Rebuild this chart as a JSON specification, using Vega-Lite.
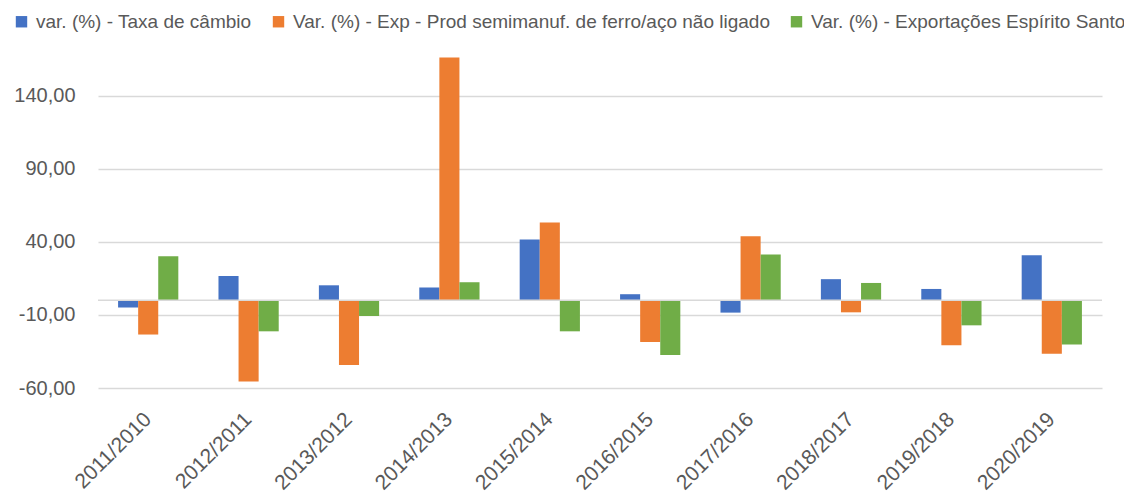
{
  "$schema": "https://vega.github.io/schema/vega-lite/v6.json",
  "width": 1004,
  "height": 336,
  "autosize": "none",
  "padding": {"left": 98, "top": 52, "right": 22, "bottom": 106},
  "background": "white",
  "config": {
    "view": {"stroke": null},
    "font": "Liberation Sans"
  },
  "data": {
    "values": [
      {"periodo": "2011/2010", "serie": "var. (%) - Taxa de câmbio", "valor": -4.9},
      {"periodo": "2011/2010", "serie": "Var. (%) - Exp - Prod semimanuf. de ferro/aço não ligado", "valor": -23.4},
      {"periodo": "2011/2010", "serie": "Var. (%) - Exportações Espírito Santo", "valor": 30.2},
      {"periodo": "2012/2011", "serie": "var. (%) - Taxa de câmbio", "valor": 16.7},
      {"periodo": "2012/2011", "serie": "Var. (%) - Exp - Prod semimanuf. de ferro/aço não ligado", "valor": -55.6},
      {"periodo": "2012/2011", "serie": "Var. (%) - Exportações Espírito Santo", "valor": -21.2},
      {"periodo": "2013/2012", "serie": "var. (%) - Taxa de câmbio", "valor": 10.3},
      {"periodo": "2013/2012", "serie": "Var. (%) - Exp - Prod semimanuf. de ferro/aço não ligado", "valor": -44.2},
      {"periodo": "2013/2012", "serie": "Var. (%) - Exportações Espírito Santo", "valor": -10.7},
      {"periodo": "2014/2013", "serie": "var. (%) - Taxa de câmbio", "valor": 8.8},
      {"periodo": "2014/2013", "serie": "Var. (%) - Exp - Prod semimanuf. de ferro/aço não ligado", "valor": 166.3},
      {"periodo": "2014/2013", "serie": "Var. (%) - Exportações Espírito Santo", "valor": 12.4},
      {"periodo": "2015/2014", "serie": "var. (%) - Taxa de câmbio", "valor": 41.6},
      {"periodo": "2015/2014", "serie": "Var. (%) - Exp - Prod semimanuf. de ferro/aço não ligado", "valor": 53.3},
      {"periodo": "2015/2014", "serie": "Var. (%) - Exportações Espírito Santo", "valor": -21.2},
      {"periodo": "2016/2015", "serie": "var. (%) - Taxa de câmbio", "valor": 4.2},
      {"periodo": "2016/2015", "serie": "Var. (%) - Exp - Prod semimanuf. de ferro/aço não ligado", "valor": -28.5},
      {"periodo": "2016/2015", "serie": "Var. (%) - Exportações Espírito Santo", "valor": -37.4},
      {"periodo": "2017/2016", "serie": "var. (%) - Taxa de câmbio", "valor": -8.4},
      {"periodo": "2017/2016", "serie": "Var. (%) - Exp - Prod semimanuf. de ferro/aço não ligado", "valor": 43.9},
      {"periodo": "2017/2016", "serie": "Var. (%) - Exportações Espírito Santo", "valor": 31.4},
      {"periodo": "2018/2017", "serie": "var. (%) - Taxa de câmbio", "valor": 14.5},
      {"periodo": "2018/2017", "serie": "Var. (%) - Exp - Prod semimanuf. de ferro/aço não ligado", "valor": -8.2},
      {"periodo": "2018/2017", "serie": "Var. (%) - Exportações Espírito Santo", "valor": 11.9},
      {"periodo": "2019/2018", "serie": "var. (%) - Taxa de câmbio", "valor": 7.8},
      {"periodo": "2019/2018", "serie": "Var. (%) - Exp - Prod semimanuf. de ferro/aço não ligado", "valor": -30.8},
      {"periodo": "2019/2018", "serie": "Var. (%) - Exportações Espírito Santo", "valor": -17.1},
      {"periodo": "2020/2019", "serie": "var. (%) - Taxa de câmbio", "valor": 30.9},
      {"periodo": "2020/2019", "serie": "Var. (%) - Exp - Prod semimanuf. de ferro/aço não ligado", "valor": -36.5},
      {"periodo": "2020/2019", "serie": "Var. (%) - Exportações Espírito Santo", "valor": -30.3}
    ]
  },
  "layer": [
    {
      "mark": {"type": "bar", "clip": false},
      "encoding": {
        "x": {
          "field": "periodo",
          "type": "nominal",
          "sort": null,
          "scale": {"paddingInner": 0.4, "paddingOuter": 0.2},
          "axis": {
            "title": null,
            "domain": false,
            "ticks": false,
            "grid": false,
            "labelAngle": -45,
            "labelAlign": "right",
            "labelBaseline": "middle",
            "labelFontSize": 21,
            "labelColor": "#595959",
            "labelPadding": 28,
            "labelOverlap": false,
            "labelFont": "Liberation Sans"
          }
        },
        "xOffset": {
          "field": "serie",
          "type": "nominal",
          "sort": ["var. (%) - Taxa de câmbio", "Var. (%) - Exp - Prod semimanuf. de ferro/aço não ligado", "Var. (%) - Exportações Espírito Santo"],
          "scale": {"paddingInner": 0, "paddingOuter": 0}
        },
        "y": {
          "field": "valor",
          "type": "quantitative",
          "scale": {"domain": [-60, 170], "nice": false, "zero": false},
          "axis": {
            "title": null,
            "values": [-60, -10, 40, 90, 140],
            "domain": false,
            "ticks": false,
            "grid": true,
            "gridColor": "#d9d9d9",
            "gridWidth": 1.5,
            "labelFontSize": 20,
            "labelColor": "#595959",
            "labelPadding": 23,
            "labelFont": "Liberation Sans",
            "labelExpr": "replace(replace(format(datum.value, '.2f'), '.', ','), '−', '-')"
          }
        },
        "color": {
          "field": "serie",
          "type": "nominal",
          "scale": {
            "domain": ["var. (%) - Taxa de câmbio", "Var. (%) - Exp - Prod semimanuf. de ferro/aço não ligado", "Var. (%) - Exportações Espírito Santo"],
            "range": ["#4472C4", "#ED7D31", "#70AD47"]
          },
          "legend": {
            "title": null,
            "orient": "none",
            "legendX": -86,
            "legendY": -40,
            "direction": "horizontal",
            "symbolType": "square",
            "symbolSize": 130,
            "symbolStrokeWidth": 0,
            "symbolOpacity": 1,
            "labelFontSize": 19,
            "labelColor": "#595959",
            "labelFont": "Liberation Sans",
            "labelOffset": 5,
            "labelLimit": 0,
            "columnPadding": 17
          }
        }
      }
    },
    {
      "data": {"values": [{"zero": 0}]},
      "mark": {"type": "rule", "color": "#d9d9d9", "strokeWidth": 1.5},
      "encoding": {"y": {"field": "zero", "type": "quantitative"}}
    }
  ]
}
